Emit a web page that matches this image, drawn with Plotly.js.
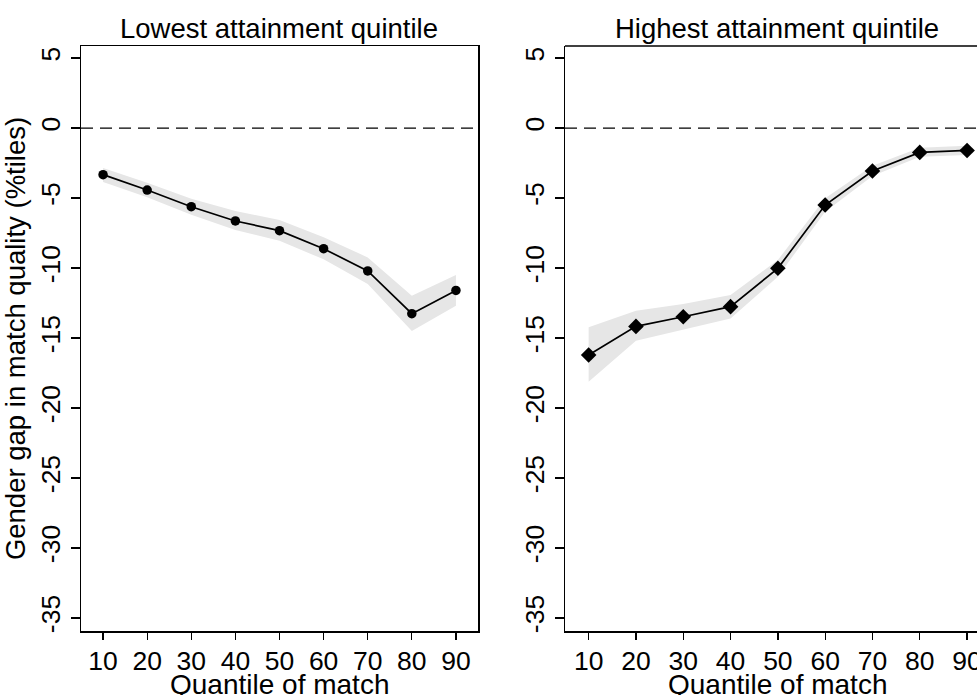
<!DOCTYPE html>
<html>
<head>
<meta charset="utf-8">
<script src="https://cdn.plot.ly/plotly-3.0.1.min.js"></script>
<style>html,body{margin:0;padding:0;background:#fff;}#chart{width:977px;height:695px;}</style>
</head>
<body>
<div id="chart"></div>
<script>
// Data
const quantiles = [10, 20, 30, 40, 50, 60, 70, 80, 90];
const lowestGap   = [-3.33, -4.43, -5.62, -6.64, -7.33, -8.62, -10.21, -13.26, -11.6];
const lowestUpper = [-2.86, -3.9, -5.05, -5.93, -6.57, -7.81, -9.24, -11.98, -10.5];
const lowestLower = [-3.86, -4.95, -6.19, -7.29, -8.05, -9.38, -11.14, -14.5, -12.69];
const highestGap   = [-16.21, -14.17, -13.48, -12.76, -10.02, -5.5, -3.07, -1.74, -1.6];
const highestUpper = [-14.24, -13.05, -12.57, -11.93, -9.43, -5.02, -2.69, -1.4, -1.26];
const highestLower = [-18.12, -15.19, -14.38, -13.6, -10.62, -5.98, -3.43, -2.05, -1.93];
const yTickVals = [-35, -30, -25, -20, -15, -10, -5, 0, 5];
const yTickText = ["-35", "-30", "-25", "-20", "-15", "-10", "-5", "0", "5"];
const xTickVals = [10, 20, 30, 40, 50, 60, 70, 80, 90];
const panelTitles = ["Lowest attainment quintile", "Highest attainment quintile"];
const xTitle = "Quantile of match";
const yTitle = "Gender gap in match quality (%tiles)";

const FONT = "Liberation Sans, Arial, Helvetica, sans-serif";
const W = 977, H = 695;

function band(xa, ya, upper, lower) {
  return {
    x: quantiles.concat(quantiles.slice().reverse()),
    y: upper.concat(lower.slice().reverse()),
    xaxis: xa, yaxis: ya,
    type: 'scatter', mode: 'lines', fill: 'toself',
    fillcolor: '#e6e6e6', line: {width: 0, color: 'rgba(0,0,0,0)'},
    hoverinfo: 'skip', showlegend: false
  };
}
function series(xa, ya, vals, sym, size) {
  return {
    x: quantiles, y: vals, xaxis: xa, yaxis: ya,
    type: 'scatter', mode: 'lines+markers',
    line: {color: '#000', width: 1.7},
    marker: {color: '#000', symbol: sym, size: size},
    showlegend: false
  };
}

const traces = [
  band('x', 'y', lowestUpper, lowestLower),
  series('x', 'y', lowestGap, 'circle', 9.5),
  band('x2', 'y2', highestUpper, highestLower),
  series('x2', 'y2', highestGap, 'diamond', 12)
];

const yBase = {
  range: [-35.93, 5.86], tickvals: yTickVals, ticktext: yTickText,
  tickangle: -90, ticks: 'outside', ticklen: 9, tickwidth: 1.3, tickcolor: '#000',
  ticklabelstandoff: 0,
  showgrid: false, zeroline: false, showline: true, linecolor: '#000', linewidth: 1.5,
  tickfont: {family: FONT, size: 26.5, color: '#000'}, fixedrange: true,
  domain: [1 - 631 / H, 1 - 46 / H]
};
const xBase = {
  tickvals: xTickVals, ticks: 'outside', ticklen: 7, tickwidth: 1.3, tickcolor: '#000',
  ticklabeloverflow: 'allow', ticklabelstandoff: -1,
  showgrid: false, zeroline: false, showline: true, linecolor: '#000', linewidth: 1.5,
  tickfont: {family: FONT, size: 26.5, color: '#000'}, fixedrange: true
};

const layout = {
  width: W, height: H,
  margin: {l: 0, r: 0, t: 0, b: 0},
  paper_bgcolor: '#fff', plot_bgcolor: '#fff',
  showlegend: false,
  xaxis: Object.assign({}, xBase, {range: [5, 95], domain: [81 / W, 478 / W], mirror: true, anchor: 'y'}),
  yaxis: Object.assign({}, yBase, {mirror: true, anchor: 'x',
    title: {text: yTitle, font: {family: FONT, size: 27.5, color: '#000'}, standoff: 2}}),
  xaxis2: Object.assign({}, xBase, {range: [5, 92.1], domain: [565 / W, 1], anchor: 'y2'}),
  yaxis2: Object.assign({}, yBase, {anchor: 'x2'}),
  shapes: [
    {type: 'line', xref: 'x domain', yref: 'y', x0: 0, x1: 1, y0: 0, y1: 0,
     line: {color: '#000', width: 1.3, dash: '12px,7px'}},
    {type: 'line', xref: 'x2 domain', yref: 'y2', x0: 0, x1: 1, y0: 0, y1: 0,
     line: {color: '#000', width: 1.3, dash: '12px,7px'}},
    {type: 'line', xref: 'x2 domain', yref: 'y2 domain', x0: 0, x1: 1, y0: 1, y1: 1,
     line: {color: '#000', width: 1.5}}
  ],
  annotations: [
    {text: panelTitles[0], xref: 'paper', yref: 'paper', x: 279 / W, y: 1 - 28 / H,
     xanchor: 'center', yanchor: 'middle', showarrow: false,
     font: {family: FONT, size: 27.5, color: '#000'}},
    {text: panelTitles[1], xref: 'paper', yref: 'paper', x: 777 / W, y: 1 - 28 / H,
     xanchor: 'center', yanchor: 'middle', showarrow: false,
     font: {family: FONT, size: 27.5, color: '#000'}},
    {text: xTitle, xref: 'paper', yref: 'paper', x: 279 / W, y: 1 - 684 / H,
     xanchor: 'center', yanchor: 'middle', showarrow: false,
     font: {family: FONT, size: 28, color: '#000'}},
    {text: xTitle, xref: 'paper', yref: 'paper', x: 777 / W, y: 1 - 684 / H,
     xanchor: 'center', yanchor: 'middle', showarrow: false,
     font: {family: FONT, size: 28, color: '#000'}}
  ]
};

Plotly.newPlot('chart', traces, layout, {staticPlot: true, displayModeBar: false});
</script>
</body>
</html>
